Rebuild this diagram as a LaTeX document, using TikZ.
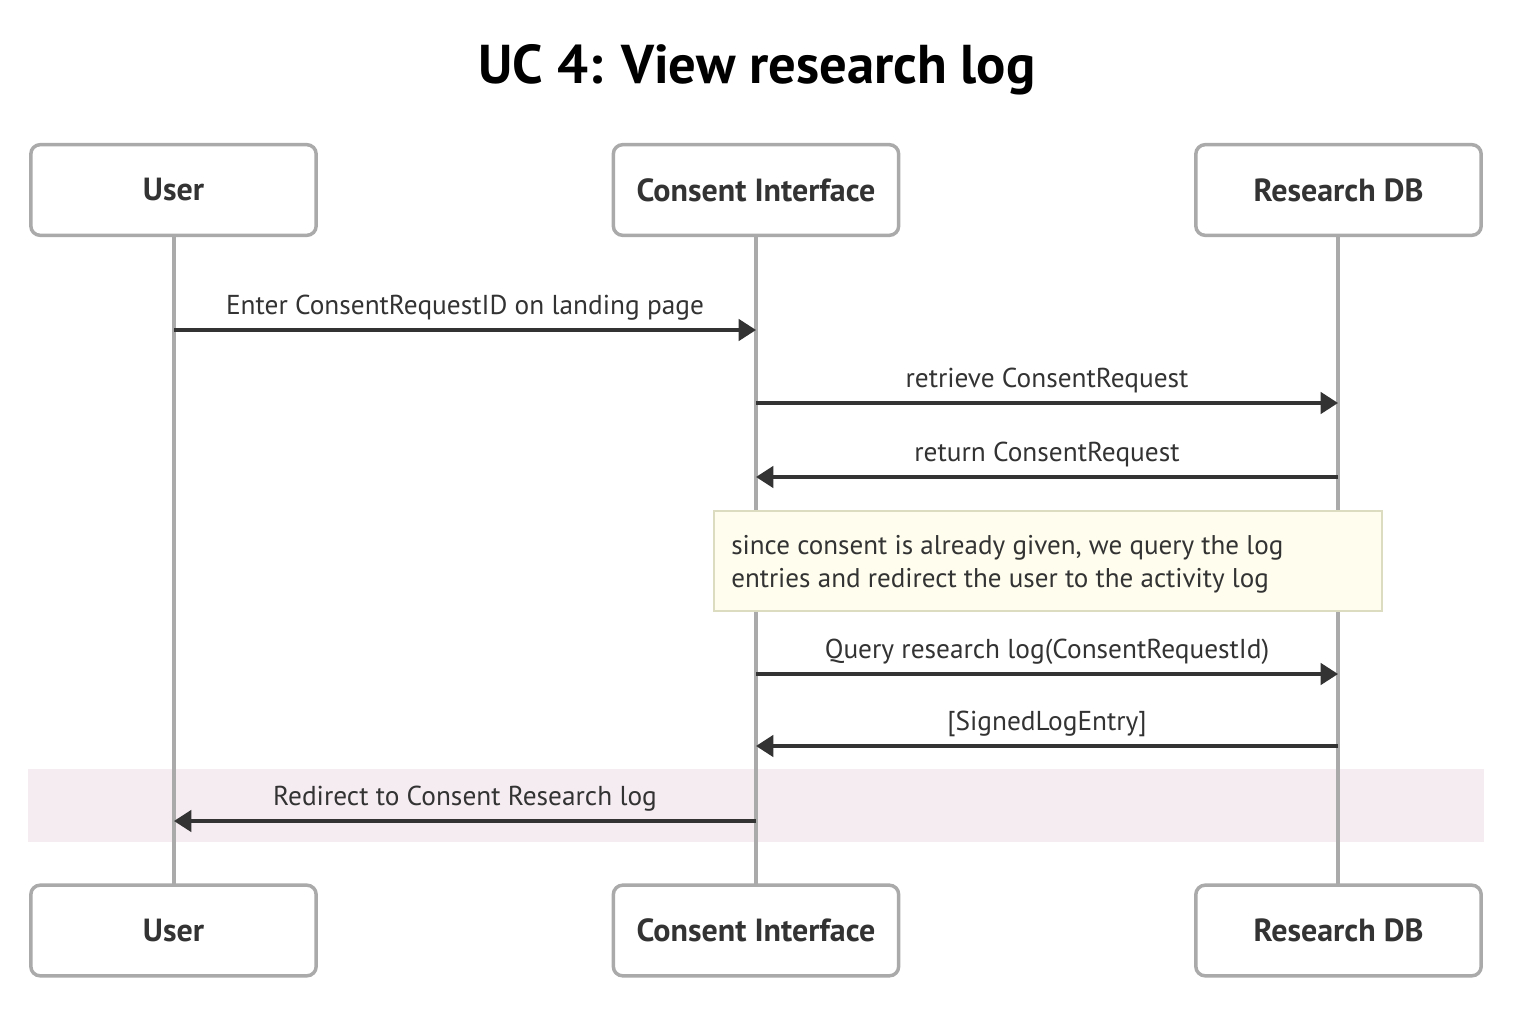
\documentclass[tikz,border=0pt]{standalone}
\usepackage{fontspec}
\setmainfont{PT Sans}
\usetikzlibrary{arrows.meta}
\definecolor{txt}{HTML}{333333}
\definecolor{boxline}{HTML}{AAAAAA}
\definecolor{notefill}{HTML}{FEFDEE}
\definecolor{noteline}{HTML}{DCDCC0}
\definecolor{pinkbg}{HTML}{F5ECF2}
\begin{document}
\begin{tikzpicture}[x=0.75pt,y=-0.75pt,
  actor/.style={draw=boxline,line width=2.6pt,rounded corners=7pt,fill=white,minimum width=214pt,minimum height=68pt,font=\fontsize{24}{28}\selectfont\bfseries,text=txt,inner sep=0pt},
  life/.style={draw=boxline,line width=2.3pt},
  msg/.style={draw=txt,line width=2.6pt,-{Triangle[length=13pt,width=16pt]}},
  lbl/.style={font=\fontsize{20.5}{24}\selectfont,text=txt,inner sep=0pt,anchor=base}]
\useasboundingbox[fill=white] (0,0) rectangle (1516,1034);
\fill[pinkbg] (28,769) rectangle (1484,842);
\node[font=\fontsize{41}{48}\selectfont\bfseries,text=black,anchor=base] (title) at (757,84) {UC 4: View research log};
% lifelines
\coordinate (ut) at (174,236); \coordinate (ub) at (174,885);
\coordinate (ct) at (756,236); \coordinate (cb) at (756,885);
\coordinate (rt) at (1338,236); \coordinate (rb) at (1338,885);
\draw[life] (ut) -- (ub);
\draw[life] (ct) -- (cb);
\draw[life] (rt) -- (rb);
\node[actor] (u1) at (173.5,190) {User};
\node[actor] (c1) at (756,190) {Consent Interface};
\node[actor] (r1) at (1338.5,190) {Research DB};
\node[actor] (u2) at (173.5,930.5) {User};
\node[actor] (c2) at (756,930.5) {Consent Interface};
\node[actor] (r2) at (1338.5,930.5) {Research DB};
% messages
\coordinate (m1a) at (174,330); \coordinate (m1b) at (756,330);
\draw[msg] (m1a) -- (m1b);
\node[lbl] (l1) at (465,314) {Enter ConsentRequestID on landing page};
\coordinate (m2a) at (756,403); \coordinate (m2b) at (1338,403);
\draw[msg] (m2a) -- (m2b);
\node[lbl] (l2) at (1047,387) {retrieve ConsentRequest};
\coordinate (m3a) at (1338,477); \coordinate (m3b) at (756,477);
\draw[msg] (m3a) -- (m3b);
\node[lbl] (l3) at (1047,461) {return ConsentRequest};
\node[draw=noteline,fill=notefill,line width=1.2pt,minimum width=501pt,minimum height=75pt,anchor=north west,inner sep=0pt] (note) at (713,510) {};
\node[font=\fontsize{20.3}{25}\selectfont,text=txt,align=left,anchor=west,inner sep=0pt] (nt) at (731,564) {since consent is already given, we query the log\\entries and redirect the user to the activity log};
\coordinate (m4a) at (756,674); \coordinate (m4b) at (1338,674);
\draw[msg] (m4a) -- (m4b);
\node[lbl] (l4) at (1047,658) {Query research log(ConsentRequestId)};
\coordinate (m5a) at (1338,746); \coordinate (m5b) at (756,746);
\draw[msg] (m5a) -- (m5b);
\node[lbl] (l5) at (1047,730) {[SignedLogEntry]};
\coordinate (m6a) at (756,821); \coordinate (m6b) at (174,821);
\draw[msg] (m6a) -- (m6b);
\node[lbl] (l6) at (465,805) {Redirect to Consent Research log};
\end{tikzpicture}
\end{document}
